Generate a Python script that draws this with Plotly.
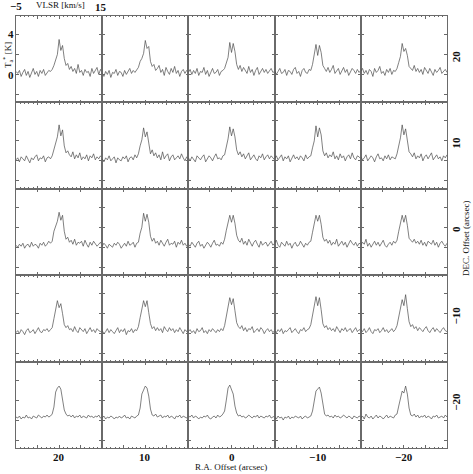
import plotly.graph_objects as go
from plotly.subplots import make_subplots

# channel velocities (km/s)
VELOCITY = [-5.0, -4.6, -4.2, -3.8, -3.4, -3.0, -2.6, -2.2, -1.8, -1.4, -1.0, -0.6, -0.2,
            0.2, 0.6, 1.0, 1.4, 1.8, 2.2, 2.6, 3.0, 3.4, 3.8, 4.2, 4.6, 5.0, 5.4, 5.8,
            6.2, 6.6, 7.0, 7.4, 7.8, 8.2, 8.6, 9.0, 9.4, 9.8, 10.2, 10.6, 11.0, 11.4,
            11.8, 12.2, 12.6, 13.0, 13.4, 13.8, 14.2, 14.6, 15.0]

RA_OFFSETS = [20, 10, 0, -10, -20]
DEC_OFFSETS = [20, 10, 0, -10, -20]

# antenna temperature T_a* (K), one spectrum per map position
T_DEC20_RA20 = [0.3, 0.1, 0.4, -0.2, 0.2, 0.5, -0.1, 0.3, -0.3, 0.2, 0.6, 0.0, 0.3, -0.2, 0.4, 0.1, 0.5, -0.1, 0.2, 0.4, 0.3,
                0.5, 0.9, 1.4, 2.0, 3.5, 2.4, 2.9, 1.6, 0.9, 1.1, 0.5,
                0.8, 0.3, 0.6, 0.1, 1.0, 0.2, 0.4, -0.1, 0.5, 0.2, 0.3, -0.2, 0.6, 0.1, 0.4, 0.7, 0.0, 0.5, 0.2]
T_DEC20_RA10 = [0.1, -0.2, 0.3, 0.0, 0.4, -0.3, 0.2, 0.1, 0.5, -0.1, 0.3, 0.2, -0.2, 0.4, 0.0, 0.3, 0.6, 0.1, 0.4, 0.2, 0.5,
                0.7, 1.3, 1.6, 2.1, 3.4, 2.6, 2.8, 1.3, 0.8, 1.0, 0.4,
                0.6, 0.9, 0.2, 0.5, -0.1, 0.7, 0.3, 0.0, 0.6, 0.2, 0.8, 0.1, 0.4, -0.2, 0.3, 0.5, 0.1, 0.4, 0.2]
T_DEC20_RA0 = [0.2, 0.5, 0.0, 0.4, 0.1, 0.6, -0.1, 0.3, 0.2, 0.7, 0.0, 0.4, -0.2, 0.3, 0.6, 0.1, 0.2, 0.5, -0.1, 0.3, 0.4,
               0.6, 1.1, 1.7, 3.2, 2.2, 3.1, 2.3, 1.0, 0.5, 0.9, 0.3,
               0.7, 0.4, 0.1, 0.8, 0.2, 0.5, -0.1, 0.4, 0.7, 0.0, 0.3, 0.6, 0.2, 0.5, 0.1, 0.4, 0.6, 0.2, 0.3]
T_DEC20_RAM10 = [0.4, 0.0, 0.3, 0.6, 0.1, 0.2, 0.5, -0.1, 0.4, 0.3, 0.0, 0.5, 0.7, 0.1, 0.3, -0.2, 0.4, 0.6, 0.2, 0.1, 0.5,
                 0.4, 1.0, 2.0, 3.0, 1.9, 2.9, 2.2, 0.9, 0.6, 0.3, 0.7,
                 0.2, 0.5, 0.9, 0.1, 0.4, 0.6, 0.0, 0.3, 0.7, 0.2, 0.5, -0.1, 0.3, 0.6, 0.4, 0.1, 0.5, 0.2, 0.4]
T_DEC20_RAM20 = [0.3, 0.6, 0.1, 0.4, 0.0, 0.5, 0.3, -0.2, 0.6, 0.2, 0.4, 0.8, 0.1, 0.3, -0.1, 0.5, 0.2, 0.6, 0.0, 0.4, 0.3,
                 0.6, 1.2, 1.8, 3.1, 2.3, 2.6, 1.9, 0.8, 0.6, 0.4, 0.9,
                 0.3, 0.6, 0.2, 0.5, 0.0, 0.7, 0.4, 0.1, 0.6, 0.3, -0.1, 0.5, 0.2, 0.4, 0.7, 0.1, 0.3, 0.5, 0.2]

T_DEC10_RA20 = [0.1, 0.3, -0.1, 0.4, 0.2, 0.0, 0.5, 0.2, -0.2, 0.3, 0.1, 0.4, 0.6, 0.0, 0.3, 0.2, 0.5, -0.1, 0.3, 0.4, 0.2,
                0.5, 1.2, 1.9, 2.4, 3.6, 2.5, 3.1, 1.5, 0.8, 1.0, 0.6,
                0.4, 0.9, 0.2, 0.6, 0.3, 0.8, 0.1, 0.4, 0.2, 0.6, 0.0, 0.5, 0.3, 0.7, 0.1, 0.4, 0.2, 0.5, 0.3]
T_DEC10_RA10 = [0.2, -0.1, 0.3, 0.1, 0.5, 0.0, 0.2, 0.4, -0.2, 0.3, 0.1, 0.0, 0.4, 0.2, 0.5, -0.1, 0.3, 0.4, 0.1, 0.6, 0.3,
                0.7, 1.5, 2.1, 3.3, 2.4, 2.9, 1.8, 0.7, 1.1, 0.5, 0.8,
                0.3, 0.6, 0.1, 0.9, 0.2, 0.5, 0.7, 0.0, 0.4, 0.6, 0.1, 0.3, 0.5, 0.2, 0.7, 0.3, 0.0, 0.4, 0.2]
T_DEC10_RA0 = [0.3, 0.0, 0.4, 0.2, -0.1, 0.5, 0.3, 0.1, 0.4, 0.6, -0.1, 0.2, 0.5, 0.3, 0.0, 0.4, 0.7, 0.2, 0.3, 0.1, 0.5,
               0.6, 1.4, 2.2, 3.4, 2.5, 3.2, 2.4, 1.1, 0.6, 0.9, 0.4,
               0.7, 0.2, 0.5, 0.8, 0.1, 0.4, 0.6, 0.2, 0.0, 0.5, 0.3, 0.7, 0.1, 0.4, 0.6, 0.2, 0.5, 0.3, 0.1]
T_DEC10_RAM10 = [0.2, 0.5, 0.1, 0.3, 0.6, 0.0, 0.4, 0.2, 0.5, -0.1, 0.3, 0.6, 0.2, 0.4, 0.1, 0.5, 0.3, 0.0, 0.6, 0.2, 0.4,
                 0.5, 1.3, 2.0, 3.5, 2.4, 3.3, 2.6, 1.0, 0.5, 0.8, 0.3,
                 0.6, 0.4, 0.9, 0.2, 0.5, 0.1, 0.7, 0.3, 0.5, 0.0, 0.4, 0.6, 0.2, 0.8, 0.3, 0.1, 0.5, 0.4, 0.2]
T_DEC10_RAM20 = [0.4, 0.1, 0.3, 0.6, 0.0, 0.2, 0.5, 0.3, -0.1, 0.4, 0.7, 0.2, 0.3, 0.0, 0.5, 0.2, 0.6, 0.1, 0.4, 0.3, 0.2,
                 0.7, 1.5, 2.3, 3.6, 2.6, 3.2, 2.1, 0.9, 0.7, 0.4, 0.8,
                 0.2, 0.5, 0.3, 0.7, 0.0, 0.4, 0.6, 0.2, 0.5, 0.8, 0.1, 0.3, 0.6, 0.2, 0.4, 0.0, 0.5, 0.3, 0.6]

T_DEC0_RA20 = [0.2, 0.0, 0.3, 0.1, 0.4, -0.1, 0.2, 0.3, 0.0, 0.5, 0.1, 0.3, 0.2, -0.1, 0.4, 0.2, 0.5, 0.1, 0.3, 0.6, 0.4,
               0.6, 1.6, 2.2, 2.6, 3.5, 2.7, 3.2, 1.6, 0.8, 1.0, 0.5,
               0.7, 0.3, 0.8, 0.2, 0.5, 0.4, 0.6, 0.1, 0.7, 0.3, 0.0, 0.5, 0.2, 0.6, 0.4, 0.1, 0.3, 0.5, 0.2]
T_DEC0_RA10 = [0.1, 0.4, 0.2, -0.1, 0.3, 0.1, 0.0, 0.4, 0.2, 0.5, 0.3, -0.1, 0.2, 0.4, 0.1, 0.6, 0.2, 0.3, 0.5, 0.0, 0.4,
               0.5, 1.4, 2.0, 3.4, 2.6, 3.3, 2.5, 1.1, 0.6, 0.9, 0.4,
               0.6, 0.2, 0.7, 0.4, 0.1, 0.5, 0.8, 0.2, 0.4, 0.3, 0.6, 0.0, 0.5, 0.3, 0.7, 0.2, 0.4, 0.1, 0.3]
T_DEC0_RA0 = [0.3, 0.1, 0.5, 0.2, 0.0, 0.4, 0.6, 0.1, 0.3, -0.1, 0.2, 0.5, 0.3, 0.0, 0.4, 0.7, 0.2, 0.3, 0.1, 0.5, 0.3,
              0.8, 1.7, 2.5, 3.2, 2.5, 3.2, 2.4, 1.2, 0.7, 0.5, 0.9,
              0.3, 0.6, 0.2, 0.8, 0.4, 0.1, 0.5, 0.7, 0.3, 0.0, 0.6, 0.2, 0.4, 0.5, 0.1, 0.3, 0.6, 0.2, 0.4]
T_DEC0_RAM10 = [0.4, 0.7, 0.2, 0.0, 0.5, 0.3, 0.1, 0.6, 0.2, 0.4, -0.1, 0.3, 0.5, 0.1, 0.2, 0.6, 0.3, 0.0, 0.4, 0.2, 0.5,
                0.6, 1.5, 2.4, 3.2, 2.6, 3.2, 2.3, 1.0, 0.6, 0.8, 0.4,
                0.7, 0.2, 0.5, 0.3, 0.8, 0.1, 0.4, 0.6, 0.2, 0.5, 0.0, 0.3, 0.7, 0.4, 0.2, 0.5, 0.1, 0.4, 0.3]
T_DEC0_RAM20 = [0.2, 0.5, 0.3, 0.8, 0.1, 0.4, 0.0, 0.3, 0.6, 0.2, 0.5, 0.1, 0.4, 0.7, 0.2, 0.0, 0.3, 0.5, 0.2, 0.6, 0.4,
                0.7, 1.6, 2.3, 3.2, 2.5, 3.2, 2.2, 0.9, 0.7, 0.5, 0.8,
                0.4, 0.6, 0.3, 0.7, 0.2, 0.5, 0.1, 0.6, 0.4, 0.3, 0.7, 0.2, 0.5, 0.0, 0.4, 0.6, 0.3, 0.1, 0.4]

T_DECM10_RA20 = [0.1, 0.3, 0.0, 0.4, 0.2, -0.1, 0.3, 0.5, 0.1, 0.2, 0.4, 0.0, 0.3, 0.6, 0.2, 0.1, 0.4, 0.3, 0.5, 0.2, 0.4,
                 0.6, 1.5, 2.3, 3.3, 2.6, 3.0, 2.0, 0.9, 0.6, 0.8, 0.4,
                 0.5, 0.2, 0.7, 0.3, 0.1, 0.6, 0.4, 0.2, 0.5, 0.0, 0.3, 0.6, 0.2, 0.4, 0.1, 0.5, 0.3, 0.2, 0.4]
T_DECM10_RA10 = [0.3, 0.0, 0.2, 0.5, 0.1, 0.4, 0.2, 0.0, 0.3, 0.6, 0.1, 0.4, 0.2, 0.5, -0.1, 0.3, 0.2, 0.5, 0.1, 0.4, 0.3,
                 0.7, 1.6, 2.4, 3.3, 2.7, 3.3, 2.1, 1.0, 0.5, 0.7, 0.3,
                 0.6, 0.3, 0.5, 0.1, 0.7, 0.4, 0.2, 0.6, 0.3, 0.5, 0.1, 0.4, 0.2, 0.6, 0.3, 0.0, 0.4, 0.2, 0.5]
T_DECM10_RA0 = [0.2, 0.4, 0.1, 0.3, 0.0, 0.5, 0.2, 0.3, 0.6, 0.1, 0.3, 0.0, 0.4, 0.2, 0.5, 0.3, 0.1, 0.4, 0.2, 0.5, 0.3,
                0.8, 1.8, 2.6, 3.6, 2.9, 3.5, 2.3, 1.1, 0.7, 0.5, 0.8,
                0.3, 0.6, 0.2, 0.5, 0.4, 0.7, 0.1, 0.3, 0.5, 0.2, 0.6, 0.4, 0.0, 0.3, 0.5, 0.2, 0.4, 0.1, 0.3]
T_DECM10_RAM10 = [0.3, 0.1, 0.4, 0.2, 0.5, 0.0, 0.3, 0.2, 0.4, 0.6, 0.1, 0.3, 0.5, 0.2, 0.0, 0.4, 0.3, 0.6, 0.2, 0.4, 0.5,
                  0.9, 1.9, 2.7, 3.7, 2.8, 3.6, 2.4, 1.0, 0.6, 0.8, 0.4,
                  0.6, 0.3, 0.5, 0.2, 0.7, 0.4, 0.1, 0.5, 0.3, 0.6, 0.2, 0.4, 0.5, 0.1, 0.3, 0.6, 0.2, 0.4, 0.3]
T_DECM10_RAM20 = [0.4, 0.2, 0.5, 0.1, 0.3, 0.6, 0.2, 0.0, 0.4, 0.3, 0.5, 0.1, 0.3, 0.6, 0.2, 0.4, 0.1, 0.3, 0.5, 0.2, 0.4,
                  0.8, 1.7, 2.6, 3.4, 2.8, 3.9, 2.5, 1.2, 0.7, 0.9, 0.5,
                  0.7, 0.3, 0.6, 0.4, 0.2, 0.5, 0.7, 0.3, 0.1, 0.4, 0.6, 0.2, 0.5, 0.3, 0.1, 0.4, 0.6, 0.3, 0.2]

T_DECM20_RA20 = [0.3, 0.2, 0.4, 0.1, 0.3, 0.2, 0.5, 0.2, 0.3, 0.1, 0.4, 0.3, 0.2, 0.5, 0.3, 0.2, 0.4, 0.3, 0.5, 0.3, 0.4,
                 0.6, 1.3, 2.8, 3.2, 3.4, 3.1, 2.2, 1.0, 0.6, 0.4, 0.5,
                 0.3, 0.5, 0.2, 0.4, 0.3, 0.5, 0.2, 0.4, 0.3, 0.2, 0.5, 0.3, 0.4, 0.2, 0.4, 0.3, 0.5, 0.2, 0.3]
T_DECM20_RA10 = [0.2, 0.4, 0.1, 0.3, 0.2, 0.4, 0.3, 0.1, 0.3, 0.2, 0.4, 0.2, 0.3, 0.5, 0.2, 0.3, 0.1, 0.4, 0.3, 0.2, 0.4,
                 0.5, 1.2, 2.6, 3.0, 3.4, 3.2, 2.4, 1.1, 0.5, 0.4, 0.6,
                 0.3, 0.4, 0.5, 0.2, 0.4, 0.3, 0.5, 0.2, 0.4, 0.3, 0.1, 0.4, 0.3, 0.5, 0.2, 0.4, 0.3, 0.2, 0.4]
T_DECM20_RA0 = [0.4, 0.3, 0.5, 0.2, 0.4, 0.3, 0.1, 0.3, 0.2, 0.4, 0.3, 0.5, 0.2, 0.1, 0.3, 0.4, 0.2, 0.5, 0.3, 0.4, 0.6,
                0.9, 2.0, 3.2, 3.5, 3.1, 2.6, 1.4, 0.7, 0.4, 0.5, 0.3,
                0.4, 0.2, 0.3, 0.5, 0.3, 0.2, 0.4, 0.3, 0.5, 0.2, 0.4, 0.3, 0.2, 0.4, 0.3, 0.5, 0.2, 0.3, 0.4]
T_DECM20_RAM10 = [0.3, 0.1, 0.4, 0.2, 0.3, 0.0, 0.3, 0.2, 0.4, 0.1, 0.3, 0.2, 0.4, 0.3, 0.2, 0.4, 0.1, 0.3, 0.4, 0.2, 0.3,
                  0.4, 0.9, 1.8, 2.9, 3.1, 3.3, 2.7, 1.4, 0.6, 0.4, 0.5,
                  0.3, 0.4, 0.2, 0.5, 0.3, 0.4, 0.2, 0.3, 0.5, 0.3, 0.2, 0.4, 0.3, 0.1, 0.4, 0.3, 0.2, 0.4, 0.3]
T_DECM20_RAM20 = [0.2, 0.4, 0.1, 0.6, 0.3, 0.2, 0.4, 0.1, 0.3, 0.5, 0.2, 0.4, 0.3, 0.1, 0.3, 0.5, 0.2, 0.4, 0.3, 0.2, 0.5,
                  0.6, 1.4, 2.3, 2.9, 2.7, 3.4, 2.6, 1.2, 0.5, 0.4, 0.6,
                  0.3, 0.5, 0.2, 0.4, 0.3, 0.5, 0.2, 0.4, 0.3, 0.1, 0.4, 0.3, 0.5, 0.2, 0.3, 0.4, 0.2, 0.5, 0.3]

# rows = DEC offset (top 20 -> bottom -20), cols = RA offset (left 20 -> right -20)
GRID = [
    [T_DEC20_RA20, T_DEC20_RA10, T_DEC20_RA0, T_DEC20_RAM10, T_DEC20_RAM20],
    [T_DEC10_RA20, T_DEC10_RA10, T_DEC10_RA0, T_DEC10_RAM10, T_DEC10_RAM20],
    [T_DEC0_RA20, T_DEC0_RA10, T_DEC0_RA0, T_DEC0_RAM10, T_DEC0_RAM20],
    [T_DECM10_RA20, T_DECM10_RA10, T_DECM10_RA0, T_DECM10_RAM10, T_DECM10_RAM20],
    [T_DECM20_RA20, T_DECM20_RA10, T_DECM20_RA0, T_DECM20_RAM10, T_DECM20_RAM20],
]

W, H = 473, 474
ML, MR, MT, MB = 16, 26, 16, 26
FONT = "Liberation Serif"
AX = "#6a6a6a"

fig = make_subplots(rows=5, cols=5, horizontal_spacing=0, vertical_spacing=0)

for r in range(5):
    for c in range(5):
        spec = GRID[r][c]
        assert len(spec) == len(VELOCITY)
        fig.add_trace(go.Scatter(x=VELOCITY, y=spec, mode="lines",
                                 line=dict(color="#4a4a4a", width=0.7),
                                 showlegend=False, hoverinfo="skip"),
                      row=r + 1, col=c + 1)

fig.update_xaxes(range=[-5, 15], showline=True, mirror="allticks", linecolor=AX, linewidth=0.8,
                 ticks="inside", ticklen=3, tickcolor=AX, tickwidth=0.8, tick0=0, dtick=5,
                 minor=dict(ticks="inside", dtick=1, ticklen=1.5, tickcolor=AX, tickwidth=0.8),
                 showticklabels=False, showgrid=False, zeroline=False)
fig.update_yaxes(range=[-2.8, 5.85], showline=True, mirror="allticks", linecolor=AX, linewidth=0.8,
                 ticks="inside", ticklen=3, tickcolor=AX, tickwidth=0.8, tick0=0, dtick=2,
                 showticklabels=False, showgrid=False, zeroline=False)

BOX_W = W - ML - MR
BOX_H = H - MT - MB


# page pixel -> paper coordinates
def px(x):
    return (x - ML) / BOX_W


def py(y):
    return (H - MB - y) / BOX_H


def label(text, x, y, size=11, angle=0):
    fig.add_annotation(text=text, x=px(x), y=py(y), xref="paper", yref="paper",
                       showarrow=False, textangle=angle, xanchor="center", yanchor="middle",
                       font=dict(family=FONT, size=size, color="#111"))


# top-left velocity / temperature scale
label("<b>\u22125</b>", 16, 6)
label("<b>15</b>", 101, 7)
label("VLSR [km/s]", 60, 5, size=9)
label("<b>4</b>", 11, 34)
label("<b>0</b>", 11, 75)
label("T<sub>a</sub><sup>*</sup> [K]", 7, 55, size=9, angle=-90)

# map offsets
col_w = BOX_W / 5
row_h = BOX_H / 5
for i, ra in enumerate(RA_OFFSETS):
    txt = str(ra).replace("-", "\u2212")
    label(f"<b>{txt}</b>", ML + col_w * (i + 0.5), 457)
for j, dec in enumerate(DEC_OFFSETS):
    txt = str(dec).replace("-", "\u2212")
    label(f"<b>{txt}</b>", 456, MT + row_h * (j + 0.5) - 3, angle=-90)

label("R.A. Offset (arcsec)", 231, 467, size=9)
label("DEC. Offset (arcsec)", 466, 238, size=9, angle=-90)

fig.update_layout(width=W, height=H, margin=dict(l=ML, r=MR, t=MT, b=MB),
                  paper_bgcolor="white", plot_bgcolor="white")

# drop the browser's default body margin so the figure sits at the page origin
fig.write_html("out.html", config={"displayModeBar": False},
               post_script="document.body.style.margin='0';")
